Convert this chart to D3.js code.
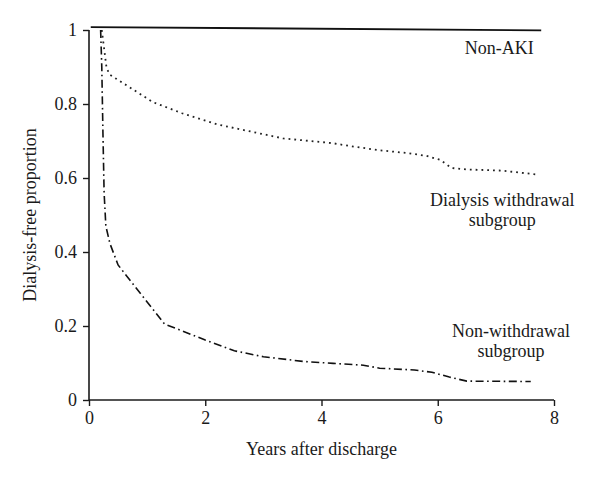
<!DOCTYPE html>
<html>
<head>
<meta charset="utf-8">
<script src="https://cdn.jsdelivr.net/npm/d3@7"></script>
<style>
  html, body { margin: 0; padding: 0; background: #fff; }
</style>
</head>
<body>
<svg id="chart" width="600" height="482"></svg>
<script>
// Data
const xTicks = [0, 2, 4, 6, 8];
const yTicks = [0, 0.2, 0.4, 0.6, 0.8, 1];
const yTickLabels = ["0", "0.2", "0.4", "0.6", "0.8", "1"];

const nonAKI = [[0.03, 1.008], [7.78, 0.999]];

const withdrawal = [
  [0.22, 1.0], [0.26, 0.95], [0.3, 0.9], [0.35, 0.88], [0.5, 0.865],
  [0.8, 0.835], [1.1, 0.805], [1.6, 0.775], [2.2, 0.745], [2.8, 0.725],
  [3.34, 0.707], [4.2, 0.694], [4.5, 0.686], [5.0, 0.675], [5.5, 0.667],
  [5.8, 0.66], [6.04, 0.649], [6.24, 0.627], [6.5, 0.623], [7.1, 0.62], [7.68, 0.61]
];

const nonWithdrawal = [
  [0.2, 1.0], [0.22, 0.9], [0.24, 0.72], [0.26, 0.56], [0.29, 0.47],
  [0.36, 0.423], [0.5, 0.365], [0.75, 0.315], [1.0, 0.265], [1.3, 0.205],
  [1.6, 0.187], [2.0, 0.162], [2.5, 0.133], [3.0, 0.117], [3.7, 0.104],
  [4.2, 0.099], [4.72, 0.094], [5.0, 0.086], [5.6, 0.081], [5.9, 0.075],
  [6.2, 0.062], [6.5, 0.051], [7.6, 0.05]
];

const labels = [
  { lines: ["Non-AKI"], x: 7.06, y: 0.935 },
  { lines: ["Dialysis withdrawal", "subgroup"], x: 7.11, y: 0.524 },
  { lines: ["Non-withdrawal", "subgroup"], x: 7.26, y: 0.171 }
];

const FONT = "'Liberation Serif', 'Times New Roman', serif";
const FS = "18px";
const svg = d3.select("#chart");
const margin = { left: 89, top: 30, right: 46, bottom: 82 };
const W = 600, H = 482;

const x = d3.scaleLinear().domain([0, 8]).range([margin.left, W - margin.right]);
const y = d3.scaleLinear().domain([0, 1]).range([H - margin.bottom, margin.top]);

const axisColor = "#1a1a1a";

// X axis
const gx = svg.append("g")
  .attr("transform", `translate(0,${y(0)})`)
  .call(d3.axisBottom(x).tickValues(xTicks).tickSize(6).tickPadding(5).tickFormat(d3.format("d")));
gx.attr("font-family", null);
gx.select(".domain").attr("stroke", axisColor).attr("stroke-width", 1.6);
gx.selectAll(".tick line").attr("stroke", axisColor).attr("stroke-width", 1.4);
gx.selectAll(".tick text").style("font-family", FONT).style("font-size", FS).attr("fill", axisColor);

// Y axis
const gy = svg.append("g")
  .attr("transform", `translate(${x(0)},0)`)
  .call(d3.axisLeft(y).tickValues(yTicks).tickSize(6).tickPadding(6)
    .tickFormat((d, i) => yTickLabels[i]));
gy.attr("font-family", null);
gy.select(".domain").attr("stroke", axisColor).attr("stroke-width", 1.6);
gy.selectAll(".tick line").attr("stroke", axisColor).attr("stroke-width", 1.4);
gy.selectAll(".tick text").style("font-family", FONT).style("font-size", FS).attr("fill", axisColor);

gx.select(".domain").attr("d", `M${x(0)},0H${x(8)}`);
gy.select(".domain").attr("d", `M0,${y(0)}V${y(1)}`);

const line = d3.line().x(d => x(d[0])).y(d => y(d[1]));

svg.append("path").datum(nonAKI).attr("d", line)
  .attr("fill", "none").attr("stroke", "#111").attr("stroke-width", 1.8);

svg.append("path").datum(withdrawal).attr("d", line)
  .attr("fill", "none").attr("stroke", "#222").attr("stroke-width", 1.8)
  .attr("stroke-dasharray", "1.8,4").attr("stroke-linecap", "butt");

svg.append("path").datum(nonWithdrawal).attr("d", line)
  .attr("fill", "none").attr("stroke", "#111").attr("stroke-width", 1.6)
  .attr("stroke-dasharray", "8,3.5,1.6,3.5");

// Curve labels
labels.forEach(l => {
  const t = svg.append("text")
    .attr("text-anchor", "middle")
    .style("font-family", FONT).style("font-size", FS).attr("fill", "#1a1a1a")
    .attr("x", x(l.x)).attr("y", y(l.y));
  l.lines.forEach((s, i) => {
    t.append("tspan").attr("x", x(l.x)).attr("dy", i === 0 ? 0 : 20).text(s);
  });
});

// Axis titles
svg.append("text")
  .attr("text-anchor", "middle")
  .style("font-family", FONT).style("font-size", FS).attr("fill", "#1a1a1a")
  .attr("x", x(4)).attr("y", 455)
  .text("Years after discharge");

svg.append("text")
  .attr("text-anchor", "middle")
  .style("font-family", FONT).style("font-size", FS).attr("fill", "#1a1a1a")
  .attr("transform", `translate(36,${(y(0) + y(1)) / 2}) rotate(-90)`)
  .text("Dialysis-free proportion");
</script>
</body>
</html>
